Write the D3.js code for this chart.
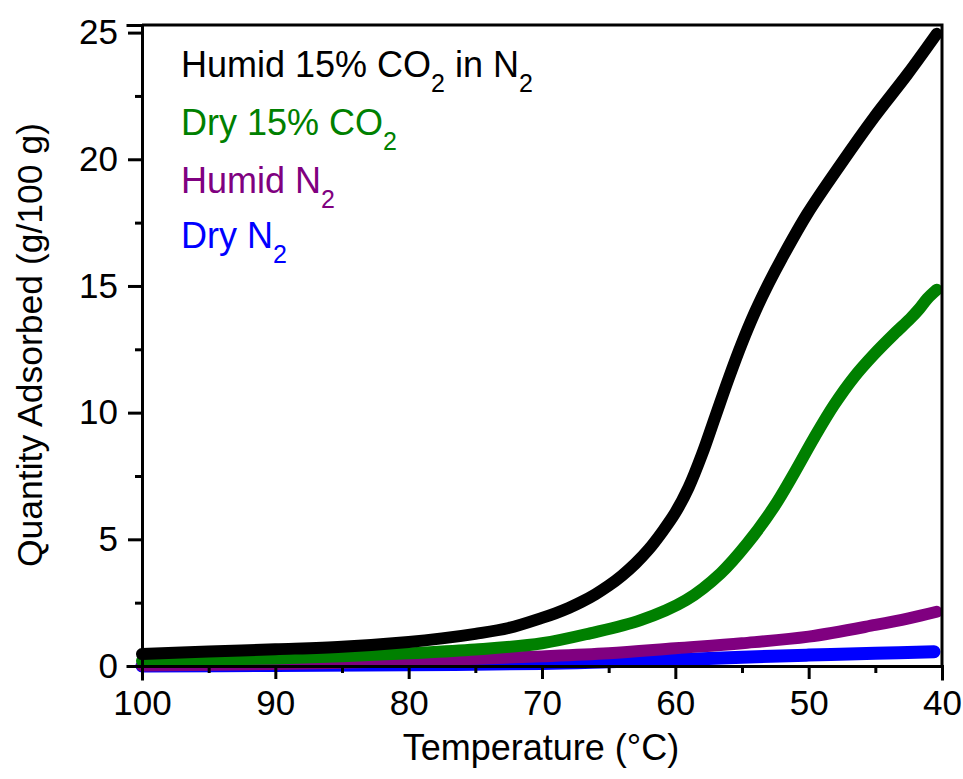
<!DOCTYPE html>
<html>
<head>
<meta charset="utf-8">
<script src="https://cdn.jsdelivr.net/npm/d3@7"></script>
<style>
  body { margin: 0; background: #fff; }
  text { font-family: Arial, "Liberation Sans", sans-serif; }
</style>
</head>
<body>
<div id="chart"></div>
<script>
"use strict";

// temperatures (deg C) and quantity adsorbed (g/100 g)
var humidCO2T = [100, 95, 90, 85, 80, 77.5, 75, 72.5, 70, 69, 68, 67, 66, 65, 64, 63, 62, 61, 60, 59, 58, 57, 56, 55, 54, 53, 52, 50.1, 47.6, 45.1, 42.6, 40.4];
var humidCO2V = [0.47, 0.57, 0.66, 0.76, 0.95, 1.09, 1.27, 1.5, 1.9, 2.08, 2.29, 2.54, 2.83, 3.17, 3.57, 4.04, 4.6, 5.28, 6.05, 7.05, 8.35, 9.85, 11.35, 12.75, 14.0, 15.1, 16.1, 17.85, 19.8, 21.65, 23.35, 24.95];

var dryCO2T = [100, 95, 90, 85, 80, 75, 70, 66.4, 62.6, 59.2, 56.6, 54.6, 52.6, 51.1, 49.6, 48.1, 46.6, 45.1, 43.6, 42.4, 41.7, 41.1, 40.4];
var dryCO2V = [0.2, 0.25, 0.3, 0.38, 0.5, 0.65, 0.9, 1.29, 1.81, 2.6, 3.66, 4.84, 6.28, 7.6, 9.0, 10.3, 11.4, 12.3, 13.1, 13.7, 14.1, 14.5, 14.85];

var humidN2T = [100, 90, 85, 80, 75, 70, 65, 60, 55, 50, 45, 42.5, 40.4];
var humidN2V = [0.02, 0.08, 0.13, 0.2, 0.29, 0.38, 0.5, 0.7, 0.9, 1.16, 1.62, 1.88, 2.14];

var dryN2T = [100, 90, 80, 70, 65, 60, 55, 50, 45, 40.6];
var dryN2V = [0.0, 0.02, 0.05, 0.1, 0.17, 0.25, 0.35, 0.43, 0.5, 0.56];

var xMajor = [100, 90, 80, 70, 60, 50, 40];
var xMinor = [95, 85, 75, 65, 55, 45];
var yMajor = [0, 5, 10, 15, 20, 25];
var yMinor = [2.5, 7.5, 12.5, 17.5, 22.5];

// drawn bottom to top
var series = [
    { t: dryN2T, v: dryN2V, color: "#0000ff", w: 13 },
    { t: humidN2T, v: humidN2V, color: "#800080", w: 12 },
    { t: dryCO2T, v: dryCO2V, color: "#008000", w: 12 },
    { t: humidCO2T, v: humidCO2V, color: "#000000", w: 12 }
];

// legend rows: text pieces, second item flags a subscript
var legend = [
    { color: "#000000", parts: [["Humid 15% CO", 0], ["2", 1], [" in N", 0], ["2", 1]] },
    { color: "#008000", parts: [["Dry 15% CO", 0], ["2", 1]] },
    { color: "#800080", parts: [["Humid N", 0], ["2", 1]] },
    { color: "#0000ff", parts: [["Dry N", 0], ["2", 1]] }
];

var width = 963, height = 779;
var plotLeft = 142, plotRight = 942, plotTop = 25, plotBottom = 666;

var svg = d3.select("#chart").append("svg")
    .attr("width", width)
    .attr("height", height);

var xScale = d3.scaleLinear().domain([100, 40]).range([plotLeft, plotRight]);
var yScale = d3.scaleLinear().domain([0, 25.3]).range([plotBottom, plotTop]);

// curves
var line = d3.line()
    .x(function(d) { return xScale(d[0]); })
    .y(function(d) { return yScale(d[1]); })
    .curve(d3.curveCatmullRom.alpha(0.5));

series.forEach(function(s) {
    var pts = s.t.map(function(t, i) { return [t, s.v[i]]; });
    svg.append("path")
        .datum(pts)
        .attr("d", line)
        .attr("fill", "none")
        .attr("stroke", s.color)
        .attr("stroke-width", s.w)
        .attr("stroke-linecap", "round")
        .attr("stroke-linejoin", "round");
});

// frame top / right
svg.append("path")
    .attr("d", "M" + plotLeft + "," + plotTop + "H" + plotRight + "V" + plotBottom)
    .attr("fill", "none")
    .attr("stroke", "#000")
    .attr("stroke-width", 3);

// axes
function styleAxis(g) {
    g.select(".domain").attr("stroke-width", 3).attr("stroke-linecap", "square");
    g.selectAll(".tick line").attr("stroke-width", 3);
    g.selectAll(".tick text")
        .attr("font-size", 35)
        .attr("font-family", "Arial, 'Liberation Sans', sans-serif")
        .attr("fill", "#000");
}

var xAxis = svg.append("g")
    .attr("transform", "translate(0," + plotBottom + ")")
    .call(d3.axisBottom(xScale).tickValues(xMajor).tickSize(13).tickPadding(11).tickFormat(d3.format("d")));
styleAxis(xAxis);

svg.append("g")
    .attr("transform", "translate(0," + plotBottom + ")")
    .call(d3.axisBottom(xScale).tickValues(xMinor).tickSize(7).tickFormat(""))
    .call(function(g) { g.select(".domain").remove(); g.selectAll("line").attr("stroke-width", 3); });

var yAxis = svg.append("g")
    .attr("transform", "translate(" + plotLeft + ",0)")
    .call(d3.axisLeft(yScale).tickValues(yMajor).tickSize(14).tickPadding(10).tickFormat(d3.format("d")));
styleAxis(yAxis);

svg.append("g")
    .attr("transform", "translate(" + plotLeft + ",0)")
    .call(d3.axisLeft(yScale).tickValues(yMinor).tickSize(7).tickFormat(""))
    .call(function(g) { g.select(".domain").remove(); g.selectAll("line").attr("stroke-width", 3); });

// axis titles
svg.append("text")
    .attr("x", 541)
    .attr("y", 760)
    .attr("text-anchor", "middle")
    .attr("font-size", 36)
    .text("Temperature (°C)");

svg.append("text")
    .attr("transform", "translate(42,345) rotate(-90)")
    .attr("text-anchor", "middle")
    .attr("font-size", 35.5)
    .text("Quantity Adsorbed (g/100 g)");

// legend
var baselines = [77, 135, 193, 248];
legend.forEach(function(row, i) {
    var t = svg.append("text")
        .attr("x", 181)
        .attr("y", baselines[i])
        .attr("font-size", 36)
        .attr("fill", row.color);
    var shifted = false;
    row.parts.forEach(function(p) {
        var span = t.append("tspan").text(p[0]);
        if (p[1]) {
            span.attr("font-size", 25).attr("dy", 15);
            shifted = true;
        } else if (shifted) {
            span.attr("dy", -15);
            shifted = false;
        }
    });
});
</script>
</body>
</html>
